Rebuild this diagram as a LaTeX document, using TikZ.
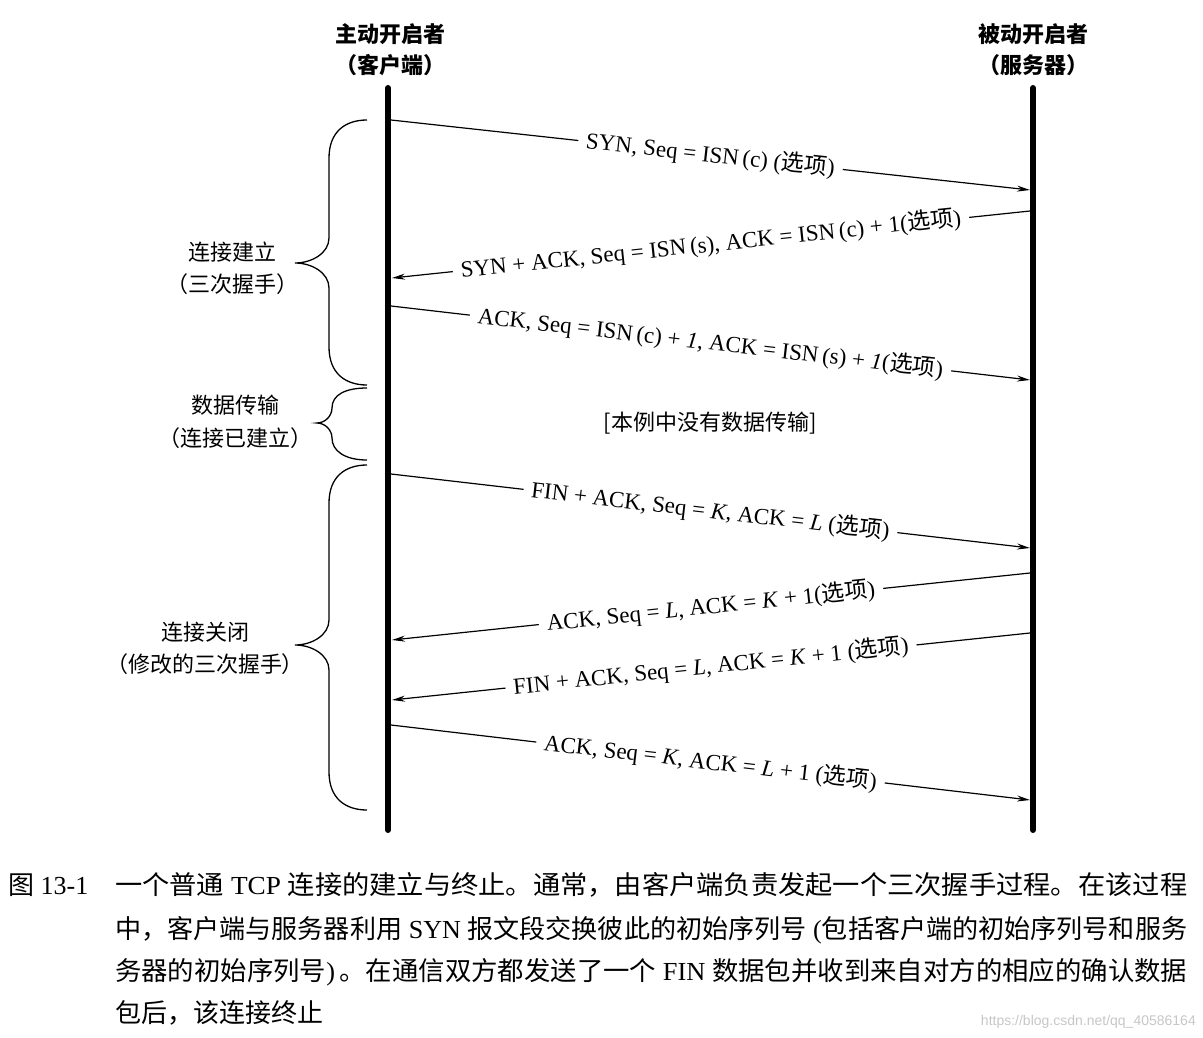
\documentclass[tikz,border=0pt]{standalone}
\usepackage{fontspec}
\usepackage{graphicx}
\setmainfont{Liberation Serif}
\newfontfamily\cjk{Noto Sans CJK SC}
\newfontfamily\wmfont{Liberation Sans}
\usetikzlibrary{arrows.meta}
\newcommand\opt{{\cjk 选项}}
\newcommand\mybrace[4]{%
  \draw[brc] (367,#1) .. controls (345,#1) and (329,#1+12) .. (329,#1+38)
    -- (329,#2-25) .. controls (329,#2-10) and (312,#2) .. (#4,#2)
    .. controls (312,#2) and (329,#2+10) .. (329,#2+25)
    -- (329,#3-38) .. controls (329,#3-12) and (345,#3) .. (367,#3);}
\begin{document}
\begin{tikzpicture}[x=1pt,y=-1pt,
  life/.style={line width=6pt, line cap=round},
  msg/.style={line width=1.2pt, -{Stealth[length=13pt,width=6pt]}},
  lbl/.style={midway, sloped, fill=white, inner xsep=8pt, inner ysep=1pt, font=\fontsize{23}{26}\selectfont},
  brc/.style={line width=1.3pt},
  grp/.style={anchor=base, inner sep=0pt, font=\cjk\fontsize{22}{26}\selectfont},
  head/.style={anchor=base, inner sep=0pt, font=\cjk\bfseries\fontsize{22}{26}\selectfont},
  capline/.style={anchor=base west, inner sep=0pt, font=\fontsize{26}{30}\selectfont},
]
\useasboundingbox (0,0) rectangle (1203,1038);
\fill[white] (0,0) rectangle (1203,1038);

% headers
\node[head] (h1) at (390,43) {主动开启者};
\node[head] (h2) at (390,74) {（客户端）};
\node[head] (h3) at (1033,43) {被动开启者};
\node[head] (h4) at (1033,74) {（服务器）};

% lifelines
\coordinate (ctop) at (388,88);
\coordinate (cbot) at (388,830);
\coordinate (stop) at (1033,88);
\coordinate (sbot) at (1033,830);
\draw[life] (ctop) -- (cbot);
\draw[life] (stop) -- (sbot);

% message endpoints
\coordinate (c1) at (391,120); \coordinate (s1) at (1030,190);
\coordinate (s2) at (1030,211); \coordinate (c2) at (392,278);
\coordinate (c3) at (391,306); \coordinate (s3) at (1030,380);
\coordinate (c5) at (391,474); \coordinate (s5) at (1030,548);
\coordinate (s6) at (1030,573); \coordinate (c6) at (392,640);
\coordinate (s7) at (1030,633); \coordinate (c7) at (392,700);
\coordinate (c8) at (391,725); \coordinate (s8) at (1030,800);

\draw[msg] (c1) -- node[lbl] (l1) {SYN, Seq = ISN\,(c) (\opt)} (s1);
\draw[msg] (s2) -- node[lbl] (l2) {SYN + ACK, Seq = ISN\,(s), ACK = ISN\,(c) + 1(\opt)} (c2);
\draw[msg] (c3) -- node[lbl] (l3) {ACK, Seq = ISN\,(c) + \textit{1}, ACK = ISN\,(s) + \textit{1}(\opt)} (s3);
\node[grp] (nodata) at (710,430) {[本例中没有数据传输]};
\draw[msg] (c5) -- node[lbl] (l5) {FIN + ACK, Seq = \textit{K}, ACK = \textit{L} (\opt)} (s5);
\draw[msg] (s6) -- node[lbl] (l6) {ACK, Seq = \textit{L}, ACK = \textit{K} + 1(\opt)} (c6);
\draw[msg] (s7) -- node[lbl] (l7) {FIN + ACK, Seq = \textit{L}, ACK = \textit{K} + 1 (\opt)} (c7);
\draw[msg] (c8) -- node[lbl] (l8) {ACK, Seq = \textit{K}, ACK = \textit{L} + 1 (\opt)} (s8);

% braces
\mybrace{120}{263}{385}{295}
\draw[brc] (367,388) .. controls (345,388) and (332,395) .. (332,408)
  .. controls (332,416) and (325,423) .. (317,423)
  .. controls (325,423) and (332,430) .. (332,438)
  .. controls (332,451) and (345,460) .. (367,460);
\mybrace{465}{645}{810}{295}

\node[grp] (g1a) at (232,260) {连接建立};
\node[grp] (g1b) at (232,292) {（三次握手）};
\node[grp] (g2a) at (235,413) {数据传输};
\node[grp] (g2b) at (235,446) {（连接已建立）};
\node[grp] (g3a) at (205,640) {连接关闭};
\node[grp] (g3b) at (205,672) {（修改的三次握手）};

% caption
\node[capline] (fig) at (8,894) {{\cjk 图} 13-1};
\node[capline] (cap1) at (115,894) {\resizebox{1072pt}{\height}{{\cjk 一个普通} TCP {\cjk 连接的建立与终止。通常，由客户端负责发起一个三次握手过程。在该过程}}};
\node[capline] (cap2) at (115,938) {\resizebox{1072pt}{\height}{{\cjk 中，客户端与服务器利用} SYN {\cjk 报文段交换彼此的初始序列号} ({\cjk 包括客户端的初始序列号和服务}}};
\node[capline] (cap3) at (115,980) {\resizebox{1072pt}{\height}{{\cjk 务器的初始序列号})\,{\cjk 。在通信双方都发送了一个} FIN {\cjk 数据包并收到来自对方的相应的确认数据}}};
\node[capline] (cap4) at (115,1022) {{\cjk 包后，该连接终止}};

\node[anchor=base east, inner sep=0pt, text=black!22, font=\wmfont\fontsize{14}{16}\selectfont] (wm) at (1196,1025) {https://blog.csdn.net/qq\_40586164};
\end{tikzpicture}
\end{document}
